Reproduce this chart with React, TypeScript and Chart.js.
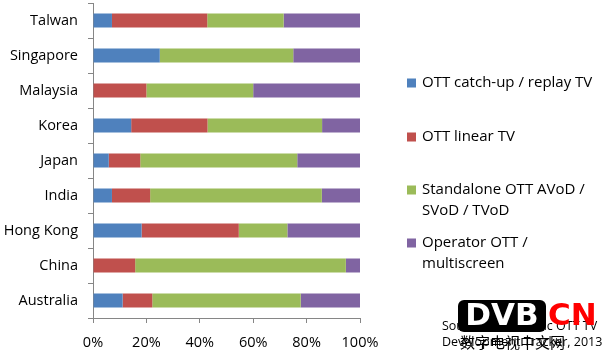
import React, { useEffect, useRef } from "react";
import { Chart, registerables } from "chart.js";

Chart.register(...registerables);

const categories = ["Talwan", "Singapore", "Malaysia", "Korea", "Japan", "India", "Hong Kong", "China", "Australia"];
const catchUp = [7.1, 25, 0, 14.3, 5.9, 7.1, 18.2, 0, 11.1];
const linearTV = [35.7, 0, 20, 28.6, 11.8, 14.3, 36.4, 15.8, 11.1];
const standalone = [28.6, 50, 40, 42.9, 58.8, 64.3, 18.2, 78.9, 55.6];
const operator = [28.6, 25, 40, 14.2, 23.5, 14.3, 27.2, 5.3, 22.2];
const seriesNames: string[][] = [
  ["OTT catch-up / replay TV"],
  ["OTT linear TV"],
  ["Standalone OTT AVoD /", "SVoD / TVoD"],
  ["Operator OTT /", "multiscreen"],
];
const xTicks = [0, 20, 40, 60, 80, 100];
const colors = ["#4F81BD", "#C0504D", "#9BBB59", "#8064A2"];
const FONT = "'Open Sans', Lato, sans-serif";

const overlayPlugin = {
  id: "overlay",
  afterDraw(chart: any) {
    const ctx = chart.ctx as CanvasRenderingContext2D;
    ctx.save();
    // legend
    const rows = [83, 137, 190, 243];
    ctx.font = `15px ${FONT}`;
    ctx.textBaseline = "middle";
    ctx.textAlign = "left";
    chart.data.datasets.forEach((ds: any, i: number) => {
      const y = rows[i];
      ctx.fillStyle = ds.backgroundColor;
      ctx.fillRect(407, y - 4.5, 9, 9);
      ctx.fillStyle = "#000";
      const lines: string[] = ds.legendLines;
      lines.forEach((t, j) => ctx.fillText(t, 422, y + j * 21));
    });
    // source note
    ctx.font = `12.5px ${FONT}`;
    ctx.fillStyle = "#000";
    ctx.fillText("Source: Asia Pacific OTT TV", 442, 326);
    ctx.fillText("Development Tracker, 2013", 442, 342);
    // watermark logo
    const bx = 458, by = 300, bw = 88, bh = 32, r = 6;
    ctx.fillStyle = "#000";
    ctx.beginPath();
    ctx.moveTo(bx + r, by);
    ctx.arcTo(bx + bw, by, bx + bw, by + bh, r);
    ctx.arcTo(bx + bw, by + bh, bx, by + bh, r);
    ctx.arcTo(bx, by + bh, bx, by, r);
    ctx.arcTo(bx, by, bx + bw, by, r);
    ctx.closePath();
    ctx.fill();
    ctx.font = `bold 31px 'DejaVu Sans', sans-serif`;
    ctx.fillStyle = "#fff";
    ctx.textAlign = "center";
    ctx.fillText("DVB", bx + bw / 2, by + bh / 2 + 1);
    ctx.fillStyle = "#f00";
    ctx.textAlign = "left";
    ctx.fillText("CN", 548, by + bh / 2 + 1);
    ctx.font = `15px 'Noto Sans CJK SC', sans-serif`;
    ctx.fillStyle = "#000";
    ctx.fillText("数字电视中文网", 460, 342);
    ctx.restore();
  },
};

export default function App() {
  const ref = useRef<HTMLCanvasElement>(null);
  useEffect(() => {
    if (!ref.current) return;
    const series = [catchUp, linearTV, standalone, operator];
    const chart = new Chart(ref.current, {
      type: "bar",
      data: {
        labels: categories,
        datasets: series.map((d, i) => ({
          label: seriesNames[i].join(" "),
          legendLines: seriesNames[i],
          data: d,
          backgroundColor: colors[i],
          borderWidth: 0,
          barPercentage: 0.4,
          categoryPercentage: 1,
        })) as any,
      },
      options: {
        indexAxis: "y",
        animation: false,
        responsive: false,
        maintainAspectRatio: false,
        layout: { padding: { left: 0, top: 3, right: 243, bottom: 0 } },
        plugins: { legend: { display: false }, tooltip: { enabled: false } },
        scales: {
          x: {
            stacked: true,
            min: 0,
            max: 100,
            afterBuildTicks: (s: any) => {
              s.ticks = xTicks.map((v) => ({ value: v }));
            },
            afterFit: (s: any) => {
              s.paddingLeft = 0;
              s.paddingRight = 0;
              s.height = 34;
            },
            ticks: {
              callback: (v: any) => v + "%",
              font: { family: FONT, size: 14.5 },
              color: "#000",
              padding: 11,
              maxRotation: 0,
            },
            grid: { drawOnChartArea: false, drawTicks: true, tickLength: 5, color: "#868686" },
            border: { color: "#868686" },
          },
          y: {
            stacked: true,
            afterFit: (s: any) => {
              s.paddingTop = 0;
              s.paddingBottom = 0;
              s.width = 93;
            },
            ticks: { font: { family: FONT, size: 14.5 }, color: "#000", padding: 10 },
            grid: { drawOnChartArea: false, drawTicks: true, tickLength: 5, color: "#868686", offset: true },
            border: { color: "#868686" },
          },
        },
      },
      plugins: [overlayPlugin],
    });
    return () => chart.destroy();
  }, []);
  return (
    <div style={{ position: "fixed", left: 0, top: 0, width: 603, height: 352, background: "#fff" }}>
      <canvas ref={ref} width={603} height={352} style={{ width: 603, height: 352 }} />
    </div>
  );
}
